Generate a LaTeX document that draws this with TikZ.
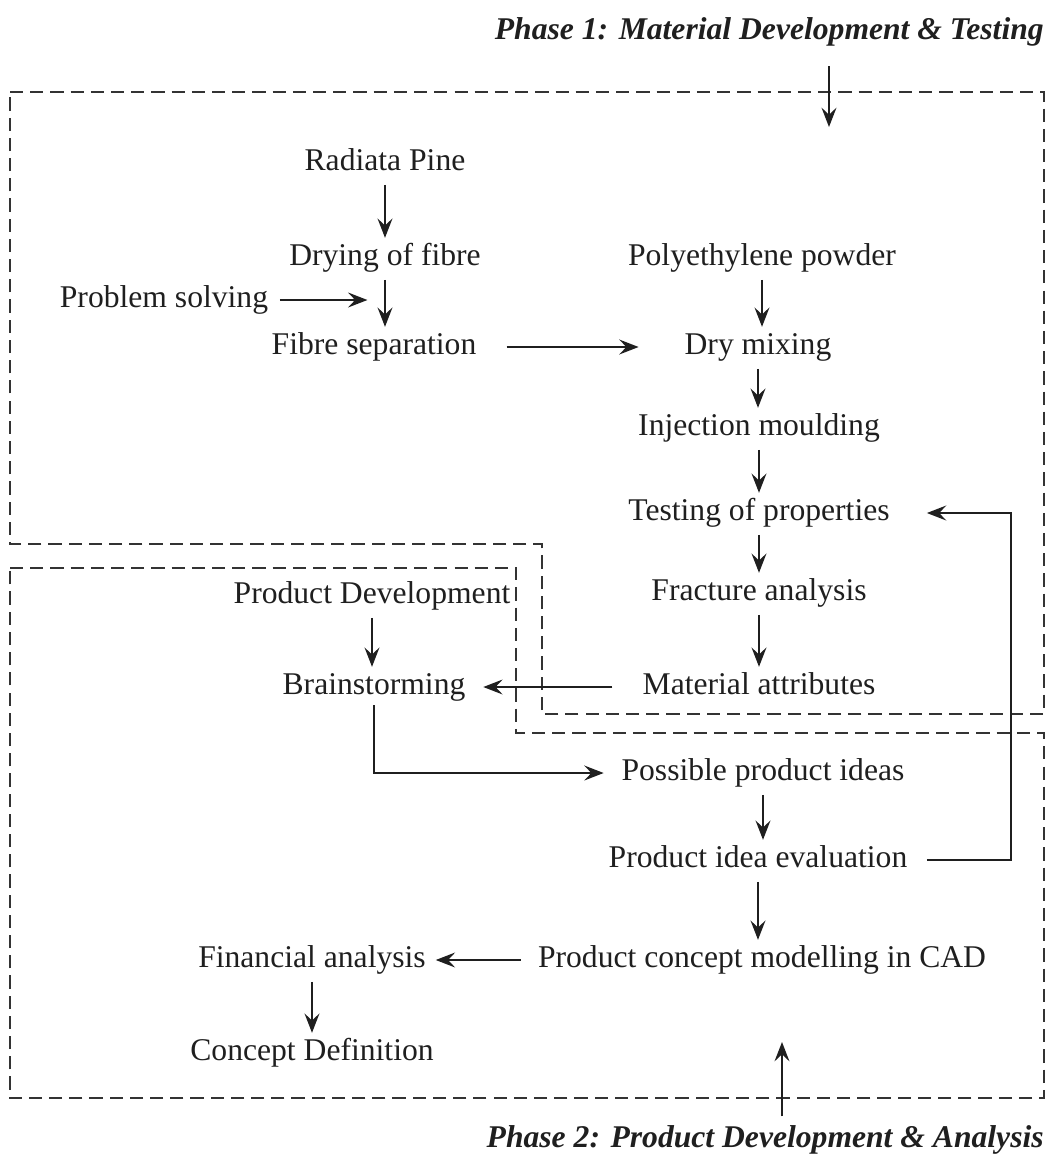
\documentclass[tikz,border=0pt]{standalone}
\usepackage{fontspec}
\setmainfont{Liberation Serif}
\usetikzlibrary{arrows.meta}
\newcommand{\stagefont}{\fontsize{18}{21}\selectfont}

\begin{document}
\begin{tikzpicture}[
  x=0.02cm, y=-0.02cm,
  stage/.style={font=\stagefont, text=black!88, inner sep=0pt,
    text height=12.6pt, text depth=4pt},
  phase/.style={stage, font=\stagefont\bfseries\itshape, anchor=east},
  arrow/.style={-{Stealth[length=11pt, width=8.5pt, inset=4pt]}, line width=1pt,
    draw=black!88, shorten <=4pt, shorten >=3pt},
  region/.style={dash pattern=on 7.5pt off 4pt, line width=0.85pt, draw=black!80}
]
\useasboundingbox (0,0) rectangle (1054,1161);

% Phase regions (dashed)
\draw[region] (10,92) -- (1044,92) -- (1044,714) -- (542,714) -- (542,544) -- (10,544) -- cycle;
\draw[region] (10,568) -- (516,568) -- (516,733) -- (1044,733) -- (1044,1098) -- (10,1098) -- cycle;

% Phase titles
\node[phase] (title1) at (1044,32) {Phase 1: Material Development \& Testing};
\node[phase] (title2) at (1044,1140) {Phase 2: Product Development \& Analysis};
\coordinate (p1in) at (829,127);
\coordinate (p2in) at (782,1042);

% Phase 1 stages
\node[stage] (radiata) at (385,163) {Radiata Pine};
\node[stage] (drying) at (385,258) {Drying of fibre};
\node[stage] (problem) at (164,300) {Problem solving};
\node[stage] (fibre) at (374,347) {Fibre separation};
\node[stage] (poly) at (762,258) {Polyethylene powder};
\node[stage] (mixing) at (758,347) {Dry mixing};
\node[stage] (injection) at (759,428) {Injection moulding};
\node[stage] (testing) at (759,513) {Testing of properties};
\node[stage] (fracture) at (759,593) {Fracture analysis};
\node[stage] (material) at (759,687) {Material attributes};

% Phase 2 stages
\node[stage] (product) at (372,596) {Product Development};
\node[stage] (brain) at (374,687) {Brainstorming};
\node[stage] (ideas) at (763,773) {Possible product ideas};
\node[stage] (evaluation) at (758,860) {Product idea evaluation};
\node[stage] (cad) at (762,960) {Product concept modelling in CAD};
\node[stage] (financial) at (312,960) {Financial analysis};
\node[stage] (concept) at (312,1053) {Concept Definition};
\coordinate (loop) at (1011,0);

% Arrows
\draw[arrow, shorten <=11pt, shorten >=0pt] (p1in |- title1.south) -- (p1in);
\draw[arrow, shorten <=5pt, shorten >=0pt] (p2in |- title2.north) -- (p2in);
\draw[arrow] (radiata.south) -- (radiata.south |- drying.north);
\draw[arrow] (drying.south) -- (drying.south |- fibre.north);
\draw[arrow, shorten <=6.5pt, shorten >=10pt] (problem.east) -- (problem.east -| drying.south);
\draw[arrow, shorten <=17pt, shorten >=26pt] (fibre.east) -- (mixing.west);
\draw[arrow] (poly.south) -- (poly.south |- mixing.north);
\draw[arrow] (mixing.south) -- (mixing.south |- injection.north);
\draw[arrow] (injection.south) -- (injection.south |- testing.north);
\draw[arrow] (testing.south) -- (testing.south |- fracture.north);
\draw[arrow] (fracture.south) -- (fracture.south |- material.north);
\draw[arrow, shorten <=17pt, shorten >=10pt] (material.west) -- (brain.east);
\draw[arrow] (product.south) -- (product.south |- brain.north);
\draw[arrow, shorten <=2pt, shorten >=10pt] (brain.south) |- (ideas.west);
\draw[arrow] (ideas.south) -- (ideas.south |- evaluation.north);
\draw[arrow] (evaluation.south) -- (evaluation.south |- cad.north);
\draw[arrow, shorten <=11pt, shorten >=21pt] (evaluation.east) -- (evaluation.east -| loop)
  -- (testing.east -| loop) -- (testing.east);
\draw[arrow, shorten <=9.5pt, shorten >=5.5pt] (cad.west) -- (financial.east);
\draw[arrow] (financial.south) -- (financial.south |- concept.north);

\end{tikzpicture}
\end{document}
